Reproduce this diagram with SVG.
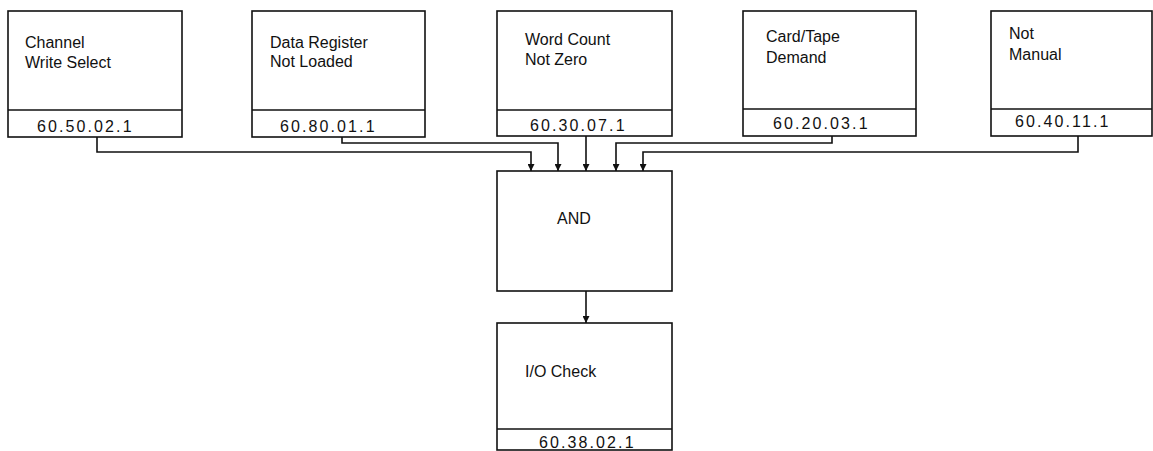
<svg xmlns="http://www.w3.org/2000/svg" width="1153" height="451" viewBox="0 0 1153 451">
<style>
.box{fill:#fff;stroke:#111;stroke-width:1.6}
.div{stroke:#111;stroke-width:1.6}
.lbl{font-family:"Liberation Sans",Arial,sans-serif;font-size:16px;fill:#111}
.num{font-family:"Liberation Sans",Arial,sans-serif;font-size:16px;letter-spacing:2.1px;fill:#111}
.wire{fill:none;stroke:#111;stroke-width:1.6}
</style>
<defs>
<marker id="arr" viewBox="0 0 10 10" refX="10" refY="5" markerWidth="9" markerHeight="7" markerUnits="userSpaceOnUse" orient="auto">
<path d="M0,0 L10,5 L0,10 Z" fill="#111"/>
</marker>
</defs>
<rect width="1153" height="451" fill="#fff"/>
<g id="n1">
<rect class="box" x="8" y="11" width="174" height="126"/>
<line class="div" x1="8" y1="110" x2="182" y2="110"/>
<text class="lbl" x="25" y="48">Channel</text>
<text class="lbl" x="25" y="68">Write Select</text>
<text class="num" x="37" y="132">60.50.02.1</text>
</g>
<g id="n2">
<rect class="box" x="252" y="11" width="173" height="126"/>
<line class="div" x1="252" y1="110" x2="425" y2="110"/>
<text class="lbl" x="270" y="48">Data Register</text>
<text class="lbl" x="270" y="67">Not Loaded</text>
<text class="num" x="280" y="132">60.80.01.1</text>
</g>
<g id="n3">
<rect class="box" x="497" y="11" width="175" height="125"/>
<line class="div" x1="497" y1="110" x2="672" y2="110"/>
<text class="lbl" x="525" y="45">Word Count</text>
<text class="lbl" x="525" y="65">Not Zero</text>
<text class="num" x="530" y="131">60.30.07.1</text>
</g>
<g id="n4">
<rect class="box" x="743" y="11" width="173" height="125"/>
<line class="div" x1="743" y1="109" x2="916" y2="109"/>
<text class="lbl" x="766" y="42">Card/Tape</text>
<text class="lbl" x="766" y="63">Demand</text>
<text class="num" x="773" y="129">60.20.03.1</text>
</g>
<g id="n5">
<rect class="box" x="991" y="11" width="161" height="125"/>
<line class="div" x1="991" y1="109" x2="1152" y2="109"/>
<text class="lbl" x="1009" y="39">Not</text>
<text class="lbl" x="1009" y="60">Manual</text>
<text class="num" x="1015" y="127">60.40.11.1</text>
</g>
<g id="and">
<rect class="box" x="497" y="171" width="175" height="120"/>
<text class="lbl" x="557" y="224">AND</text>
</g>
<g id="io">
<rect class="box" x="497" y="323" width="175" height="127"/>
<line class="div" x1="497" y1="429" x2="672" y2="429"/>
<text class="lbl" x="525" y="377">I/O Check</text>
<text class="num" x="539" y="448">60.38.02.1</text>
</g>
<g id="connectors">
<polyline class="wire" points="97,137 97,152 531,152 531,171" marker-end="url(#arr)"/>
<polyline class="wire" points="342,137 342,143 558,143 558,171" marker-end="url(#arr)"/>
<polyline class="wire" points="586,136 586,171" marker-end="url(#arr)"/>
<polyline class="wire" points="832,136 832,143 616,143 616,171" marker-end="url(#arr)"/>
<polyline class="wire" points="1078,136 1078,152 643,152 643,171" marker-end="url(#arr)"/>
<polyline class="wire" points="586,291 586,323" marker-end="url(#arr)"/>
</g>
</svg>
